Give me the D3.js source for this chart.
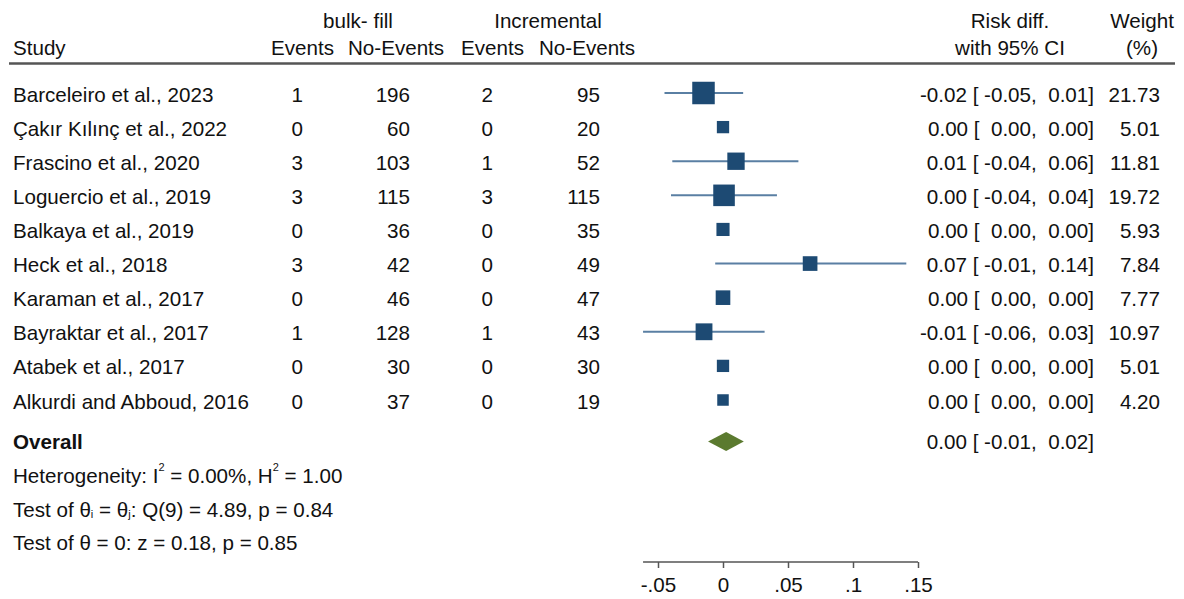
<!DOCTYPE html>
<html>
<head>
<meta charset="utf-8">
<script src="https://cdn.jsdelivr.net/npm/d3@7"></script>
<style>
  html, body { margin: 0; padding: 0; background: #fff; }
  svg text { font-family: "Liberation Sans", Arial, sans-serif; fill: #111; }
</style>
</head>
<body>
<svg id="chart" width="1184" height="599"></svg>
<script>
// ---------- data ----------
const studies = ["Barceleiro et al., 2023", "Çakır Kılınç et al., 2022", "Frascino et al., 2020",
  "Loguercio et al., 2019", "Balkaya et al., 2019", "Heck et al., 2018", "Karaman et al., 2017",
  "Bayraktar et al., 2017", "Atabek et al., 2017", "Alkurdi and Abboud, 2016"];
const bulkEvents   = [1, 0, 3, 3, 0, 3, 0, 1, 0, 0];
const bulkNoEvents = [196, 60, 103, 115, 36, 42, 46, 128, 30, 37];
const incEvents    = [2, 0, 1, 3, 0, 0, 0, 1, 0, 0];
const incNoEvents  = [95, 20, 52, 115, 35, 49, 47, 43, 30, 19];
const rdEst = [-0.015, 0, 0.010, 0.0008, 0, 0.067, 0, -0.0146, 0, 0];
const rdLo  = [-0.045, 0, -0.039, -0.040, 0, -0.006, 0, -0.0615, 0, 0];
const rdHi  = [0.0155, 0, 0.058, 0.0415, 0, 0.141, 0, 0.032, 0, 0];
const rdLabels = ["-0.02 [ -0.05,  0.01]", "0.00 [  0.00,  0.00]", "0.01 [ -0.04,  0.06]",
  "0.00 [ -0.04,  0.04]", "0.00 [  0.00,  0.00]", "0.07 [ -0.01,  0.14]", "0.00 [  0.00,  0.00]",
  "-0.01 [ -0.06,  0.03]", "0.00 [  0.00,  0.00]", "0.00 [  0.00,  0.00]"];
const weights = [21.73, 5.01, 11.81, 19.72, 5.93, 7.84, 7.77, 10.97, 5.01, 4.20];
const overall = { est: 0.0024, lo: -0.0115, hi: 0.016, label: "0.00 [ -0.01,  0.02]" };
const xTicks = [-0.05, 0, 0.05, 0.1, 0.15];

// ---------- layout ----------
const svg = d3.select("#chart");
const x = d3.scaleLinear().domain([-0.05, 0.15]).range([658, 918]);
const y = d3.scaleLinear().domain([0, studies.length - 1]).range([93, 400]);
const side = d3.scaleLinear().domain([Math.sqrt(d3.min(weights)), Math.sqrt(d3.max(weights))]).range([11.5, 22.5]);
const FS = 20.6;
const squareColor = "#1d4a73", ciColor = "#5a7fa3", diamondColor = "#5b7a2f";

// header
const hdr = svg.append("g").attr("font-size", FS);
hdr.append("text").attr("x", 358).attr("y", 28).attr("text-anchor", "middle").text("bulk- fill");
hdr.append("text").attr("x", 548).attr("y", 28).attr("text-anchor", "middle").text("Incremental");
hdr.append("text").attr("x", 1010).attr("y", 28).attr("text-anchor", "middle").text("Risk diff.");
hdr.append("text").attr("x", 1142).attr("y", 28).attr("text-anchor", "middle").text("Weight");
hdr.append("text").attr("x", 13).attr("y", 55).text("Study");
[[271, "Events"], [348, "No-Events"], [461, "Events"], [539, "No-Events"]].forEach(([px, t]) =>
  hdr.append("text").attr("x", px).attr("y", 55).text(t));
hdr.append("text").attr("x", 1010).attr("y", 55).attr("text-anchor", "middle").text("with 95% CI");
hdr.append("text").attr("x", 1142).attr("y", 55).attr("text-anchor", "middle").text("(%)");
svg.append("line").attr("x1", 9).attr("x2", 1175).attr("y1", 63.5).attr("y2", 63.5)
  .attr("stroke", "#555").attr("stroke-width", 2.5);

// rows text
const rows = svg.append("g").attr("font-size", FS);
const cols = [
  { vals: bulkEvents, x: 303 }, { vals: bulkNoEvents, x: 410 },
  { vals: incEvents, x: 493 }, { vals: incNoEvents, x: 600 }
];
studies.forEach((s, i) => {
  const by = y(i) + 8.5;
  rows.append("text").attr("x", 13).attr("y", by).text(s);
  cols.forEach(c => rows.append("text").attr("x", c.x).attr("y", by).attr("text-anchor", "end").text(c.vals[i]));
  rows.append("text").attr("x", 1094).attr("y", by).attr("text-anchor", "end")
    .style("white-space", "pre").text(rdLabels[i]);
  rows.append("text").attr("x", 1160).attr("y", by).attr("text-anchor", "end").text(weights[i].toFixed(2));
});

// CI lines and squares
const marks = svg.append("g");
marks.selectAll("line.ci").data(studies).join("line").attr("class", "ci")
  .attr("x1", (d, i) => x(rdLo[i])).attr("x2", (d, i) => x(rdHi[i]))
  .attr("y1", (d, i) => y(i)).attr("y2", (d, i) => y(i))
  .attr("stroke", ciColor).attr("stroke-width", 2);
marks.selectAll("rect.sq").data(studies).join("rect").attr("class", "sq")
  .attr("x", (d, i) => x(rdEst[i]) - side(Math.sqrt(weights[i])) / 2)
  .attr("y", (d, i) => y(i) - side(Math.sqrt(weights[i])) / 2)
  .attr("width", (d, i) => side(Math.sqrt(weights[i])))
  .attr("height", (d, i) => side(Math.sqrt(weights[i])))
  .attr("fill", squareColor);

// overall
const oy = 441.5;
svg.append("path")
  .attr("d", `M${x(overall.lo)},${oy} L${x(overall.est)},${oy - 9.5} L${x(overall.hi)},${oy} L${x(overall.est)},${oy + 9.5} Z`)
  .attr("fill", diamondColor);
const foot = svg.append("g").attr("font-size", FS);
foot.append("text").attr("x", 13).attr("y", 449).attr("font-weight", "bold").text("Overall");
foot.append("text").attr("x", 1094).attr("y", 449).attr("text-anchor", "end")
  .style("white-space", "pre").text(overall.label);

const het = foot.append("text").attr("x", 13).attr("y", 483);
het.append("tspan").text("Heterogeneity: I");
het.append("tspan").attr("font-size", 11).attr("dy", -12).text("2");
het.append("tspan").attr("dy", 12).style("white-space", "pre").text(" = 0.00%, H");
het.append("tspan").attr("font-size", 11).attr("dy", -12).text("2");
het.append("tspan").attr("dy", 12).style("white-space", "pre").text(" = 1.00");

const t1 = foot.append("text").attr("x", 13).attr("y", 517);
t1.append("tspan").text("Test of θ");
t1.append("tspan").attr("font-size", 11).attr("dy", 1).text("i");
t1.append("tspan").attr("dy", -1).style("white-space", "pre").text(" = θ");
t1.append("tspan").attr("font-size", 11).attr("dy", 1).text("j");
t1.append("tspan").attr("dy", -1).text(": Q(9) = 4.89, p = 0.84");

foot.append("text").attr("x", 13).attr("y", 550).text("Test of θ = 0: z = 0.18, p = 0.85");

// axis
const axisY = 562;
const fmt = v => v === 0 ? "0" : (v < 0 ? "-" : "") + String(Math.abs(v)).replace(/^0\./, ".");
const ax = svg.append("g").attr("transform", `translate(0,${axisY})`)
  .call(d3.axisBottom(x).tickValues(xTicks).tickSize(6).tickFormat(fmt));
ax.select(".domain").remove();
ax.selectAll(".tick line").attr("stroke", "#555").attr("stroke-width", 1.5);
ax.selectAll(".tick text").attr("font-size", FS).attr("font-family", "Liberation Sans, Arial, sans-serif")
  .attr("fill", "#111").attr("dy", 0).attr("y", 30);
ax.append("line").attr("x1", x(d3.min(rdLo))).attr("x2", x(d3.max(xTicks)))
  .attr("y1", 0).attr("y2", 0).attr("stroke", "#555").attr("stroke-width", 1.5);
</script>
</body>
</html>
